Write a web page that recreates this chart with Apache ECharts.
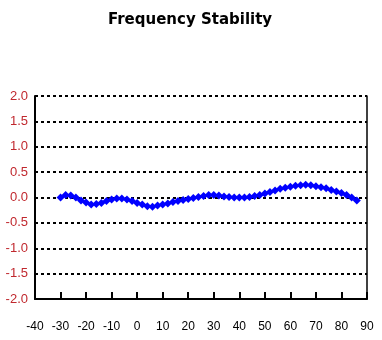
<!DOCTYPE html>
<html>
<head>
<meta charset="utf-8">
<script src="https://cdn.jsdelivr.net/npm/echarts@6/dist/echarts.min.js"></script>
<style>html,body{margin:0;padding:0;background:#fff;}#c{width:382px;height:340px;}</style>
</head>
<body>
<div id="c"></div>
<script>
var titleText = 'Frequency Stability';
var temps = [-30,-28,-26,-24,-22,-20,-18,-16,-14,-12,-10,-8,-6,-4,-2,0,2,4,6,8,10,12,14,16,18,20,22,24,26,28,30,32,34,36,38,40,42,44,46,48,50,52,54,56,58,60,62,64,66,68,70,72,74,76,78,80,82,84,86];
var stability = [0.00,0.05,0.04,0.00,-0.06,-0.10,-0.14,-0.13,-0.11,-0.07,-0.04,-0.02,-0.02,-0.04,-0.07,-0.11,-0.14,-0.17,-0.18,-0.16,-0.14,-0.12,-0.09,-0.07,-0.05,-0.03,-0.01,0.01,0.03,0.05,0.05,0.04,0.02,0.01,0.00,0.00,0.00,0.01,0.03,0.05,0.08,0.11,0.14,0.17,0.19,0.21,0.23,0.24,0.25,0.24,0.22,0.20,0.18,0.15,0.12,0.09,0.05,0.00,-0.06];
var xTicks = [-30,-20,-10,0,10,20,30,40,50,60,70,80];
var tickLen = 0.14;
var xMin = -40, xMax = 90, xStep = 10;
var yMin = -2.0, yMax = 2.0, yStep = 0.5;

var chart = echarts.init(document.getElementById('c'));
chart.setOption({
  animation: false,
  backgroundColor: '#fff',
  title: {
    text: titleText, left: 185, textAlign: 'center', top: 8,
    textStyle: {fontFamily: 'DejaVu Sans', fontSize: 15, fontWeight: 'bold', color: '#000'}
  },
  grid: {left: 35, right: 15, top: 96, bottom: 41, containLabel: false},
  xAxis: {
    type: 'value', min: xMin, max: xMax, interval: xStep,
    axisLine: {show: true, onZero: false, lineStyle: {color: '#000', width: 2}},
    axisTick: {show: true, inside: true, length: 7, lineStyle: {color: '#000', width: 2}},
    axisLabel: {color: '#000', fontFamily: 'Liberation Sans', fontSize: 12, margin: 22, letterSpacing: -1},
    splitLine: {show: false}
  },
  yAxis: [{
    type: 'value', min: yMin, max: yMax, interval: yStep,
    axisLine: {show: true, onZero: false, lineStyle: {color: '#000', width: 2}},
    axisTick: {show: false},
    axisLabel: {color: '#c0282e', fontFamily: 'Liberation Sans', fontSize: 13, margin: 7,
      formatter: function (v) { return v.toFixed(1); }},
    splitLine: {show: true, lineStyle: {color: '#000', width: 2, type: [3, 3]}}
  }, {
    type: 'value', min: yMin, max: yMax, interval: yStep, position: 'right',
    axisLine: {show: true, onZero: false, lineStyle: {color: '#000', width: 1.5}},
    axisTick: {show: false}, axisLabel: {show: false}, splitLine: {show: false}
  }],
  series: [{
    type: 'line', z: 3,
    data: temps.map(function (t, i) { return [t, stability[i]]; }),
    symbol: 'diamond', symbolSize: 8, showSymbol: true,
    lineStyle: {color: '#0000ff', width: 2},
    itemStyle: {color: '#0000ff'},
    markLine: {
      silent: true, symbol: ['none', 'none'], animation: false, precision: 2,
      label: {show: false},
      lineStyle: {color: '#000', width: 2, type: 'solid', opacity: 1},
      emphasis: {disabled: true},
      data: xTicks.map(function (t) { return [{xAxis: t, yAxis: yMin}, {xAxis: t, yAxis: yMin + tickLen}]; })
    }
  }]
});
</script>
</body>
</html>
